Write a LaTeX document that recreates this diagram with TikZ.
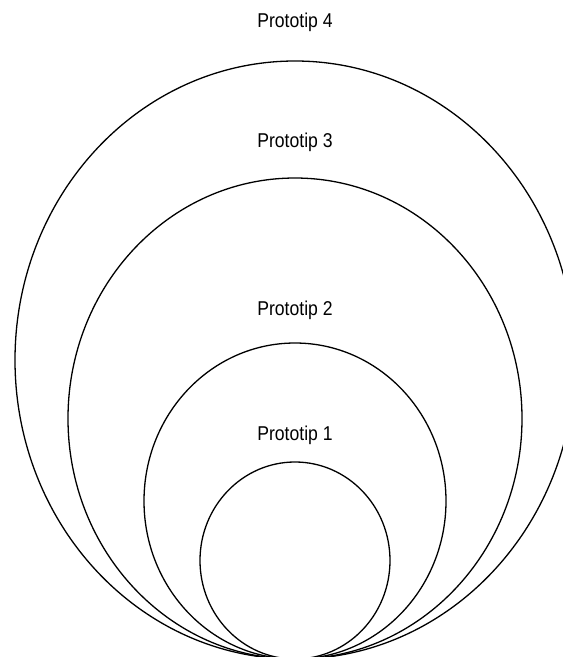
\documentclass[tikz,border=0pt]{standalone}
\usepackage{fontspec}
\setmainfont{Liberation Sans}
\begin{document}
\begin{tikzpicture}[x=1pt,y=-1pt,
  ring/.style={draw=black,fill=white,line width=1.3pt},
  lbl/.style={anchor=base,inner sep=0pt,font=\fontsize{20}{24}\selectfont}]
\useasboundingbox (0,0) rectangle (563,657);
\begin{scope}
\clip (0,0) rectangle (563,657);
\fill[white] (0,0) rectangle (563,657);
\draw[ring] (295,360) ellipse [x radius=280, y radius=299];
\draw[ring] (295,418.5) ellipse [x radius=227, y radius=240.5];
\draw[ring] (295,501) ellipse [x radius=151, y radius=158];
\draw[ring] (295,560.5) ellipse [x radius=95, y radius=98.5];
\end{scope}
\node[lbl] (p4) at (295,27) {\scalebox{0.88}[1]{Prototip 4}};
\node[lbl] (p3) at (295,147) {\scalebox{0.88}[1]{Prototip 3}};
\node[lbl] (p2) at (295,315) {\scalebox{0.88}[1]{Prototip 2}};
\node[lbl] (p1) at (295,440) {\scalebox{0.88}[1]{Prototip 1}};
\end{tikzpicture}
\end{document}
